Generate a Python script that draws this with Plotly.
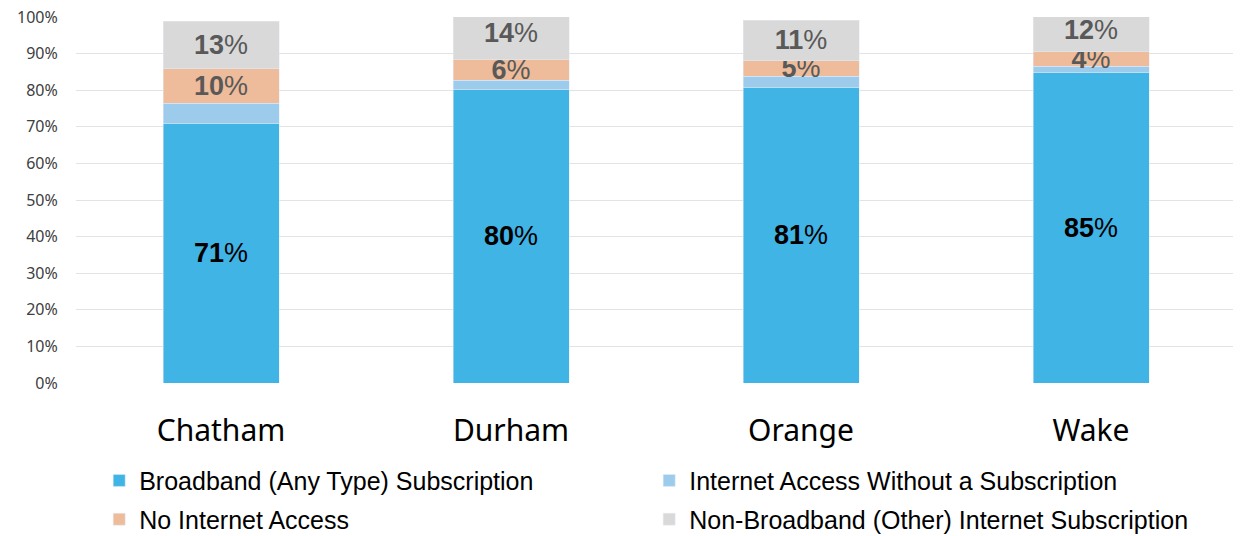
import plotly.graph_objects as go

counties = ["Chatham", "Durham", "Orange", "Wake"]

# Segment values (percent)
broadband = [71.0, 80.1, 80.8, 84.9]
no_subscription = [5.4, 2.6, 3.0, 1.7]
no_internet = [9.4, 5.8, 4.3, 3.9]
non_broadband = [13, 14, 11, 12]

# Data labels shown on the bars
broadband_labels = ["71", "80", "81", "85"]
no_internet_labels = ["10", "6", "5", "4"]
non_broadband_labels = ["13", "14", "11", "12"]

series_names = [
    "Broadband (Any Type) Subscription",
    "Internet Access Without a Subscription",
    "No Internet Access",
    "Non-Broadband (Other) Internet Subscription",
]
colors = ["#41B4E6", "#9DCBEB", "#EEBC9A", "#D9D9D9"]

y_ticks = list(range(0, 101, 10))
y_ticktext = [f"{v}%" for v in y_ticks]

label_font = "Liberation Sans, Arial, sans-serif"

fig = go.Figure()
fig.add_trace(go.Bar(
    x=counties, y=broadband, name=series_names[0], marker_color=colors[0],
    text=broadband_labels, texttemplate="<b>%{text}</b>%",
    textposition="inside", insidetextanchor="middle", constraintext="none",
    textfont=dict(family=label_font, size=27, color="#000000"),
    hoverinfo="skip", legend="legend",
))
fig.add_trace(go.Bar(
    x=counties, y=no_subscription, name=series_names[1], marker_color=colors[1],
    hoverinfo="skip", legend="legend",
))
fig.add_trace(go.Bar(
    x=counties, y=no_internet, name=series_names[2], marker_color=colors[2],
    text=no_internet_labels, texttemplate="<b>%{text}</b>%",
    textposition="inside", insidetextanchor="middle", constraintext="none",
    textfont=dict(family=label_font, size=27, color="#595959"),
    hoverinfo="skip", legend="legend2",
))
fig.add_trace(go.Bar(
    x=counties, y=non_broadband, name=series_names[3], marker_color=colors[3],
    text=non_broadband_labels, texttemplate="<b>%{text}</b>%",
    textposition="inside", insidetextanchor="middle", constraintext="none",
    textfont=dict(family=label_font, size=27, color="#595959"),
    hoverinfo="skip", legend="legend2",
))

legend_common = dict(
    orientation="h",
    x=0.02, xanchor="left",
    yanchor="top",
    traceorder="normal",
    entrywidth=505, entrywidthmode="pixels",
    font=dict(family=label_font, size=25, color="#000000"),
    itemclick=False, itemdoubleclick=False,
    bgcolor="rgba(0,0,0,0)",
)

fig.update_layout(
    barmode="stack",
    bargap=0.6,
    width=1233, height=528,
    margin=dict(l=68, r=5, t=9, b=153, autoexpand=False),
    plot_bgcolor="#FFFFFF",
    paper_bgcolor="#FFFFFF",
    font=dict(family="Noto Sans, Open Sans, sans-serif", color="#000000"),
    showlegend=True,
    legend=dict(legend_common, y=-0.204),
    legend2=dict(legend_common, y=-0.31),
    xaxis=dict(
        tickfont=dict(family="Noto Sans, Open Sans, sans-serif", size=30, color="#000000"),
        ticks="outside", ticklen=21, tickcolor="rgba(0,0,0,0)",
        showline=False, showgrid=False, zeroline=False,
        fixedrange=True,
    ),
    yaxis=dict(
        range=[0, 100],
        tickvals=y_ticks, ticktext=y_ticktext,
        tickfont=dict(family="Noto Sans, Open Sans, sans-serif", size=16, color="#404040"),
        ticks="outside", ticklen=14, tickcolor="rgba(0,0,0,0)",
        ticklabeloverflow="allow",
        showgrid=True, gridcolor="#E3E3E3", gridwidth=1,
        zeroline=False, showline=False,
        fixedrange=True,
    ),
)

fig.write_html("out.html")
